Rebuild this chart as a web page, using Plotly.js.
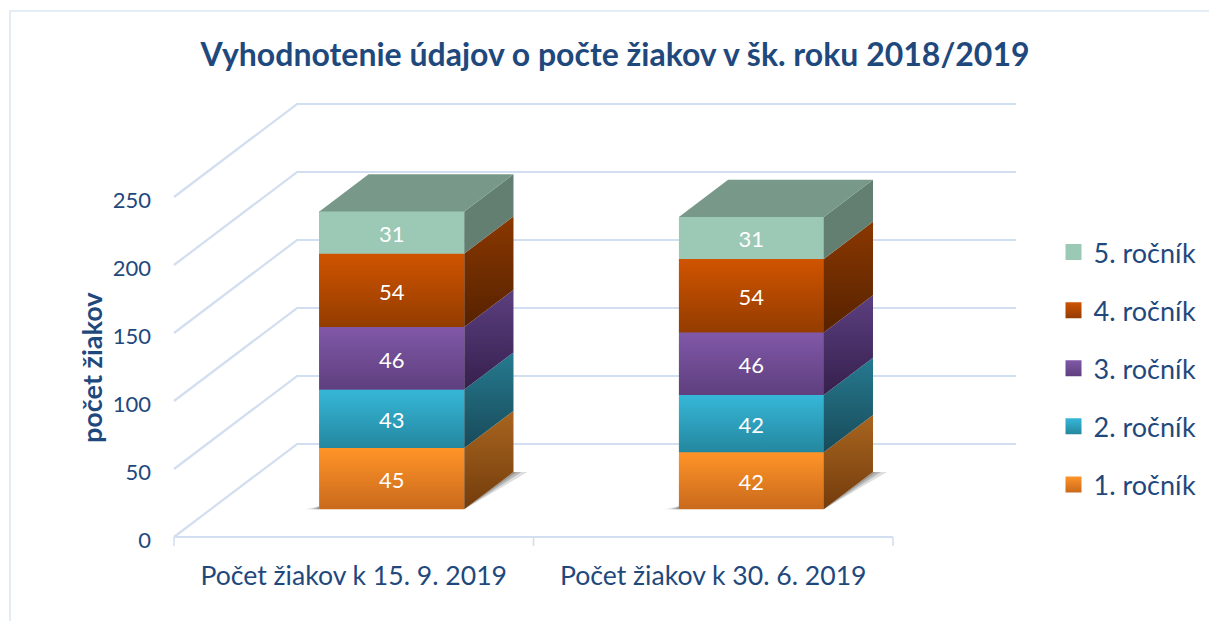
<!DOCTYPE html>
<html>
<head>
<meta charset="utf-8">
<script src="https://cdn.plot.ly/plotly-3.0.1.min.js"></script>
<style>html,body{margin:0;padding:0;background:#fff;overflow:hidden}#chart{width:1209px;height:621px}</style>
</head>
<body>
<div id="chart"></div>
<script>
const categories = ["Počet žiakov k 15. 9. 2019", "Počet žiakov k 30. 6. 2019"];
const seriesNames = ["1. ročník", "2. ročník", "3. ročník", "4. ročník", "5. ročník"];
const rocnik1 = [45, 42];
const rocnik2 = [43, 42];
const rocnik3 = [46, 46];
const rocnik4 = [54, 54];
const rocnik5 = [31, 31];
const yTicks = [0, 50, 100, 150, 200, 250];

const frontTop = ["#ff9428", "#36b7d8", "#8058a8", "#d05400", "#9cc9b5"];
const frontBot = ["#c9691c", "#24879f", "#5f3f7e", "#933c00", "#9cc9b5"];
const sideTop  = ["#a9651f", "#267a90", "#5c3f80", "#8a3800", "#627f72"];
const sideBot  = ["#733c0c", "#184a59", "#35204d", "#562200", "#627f72"];
const topColor = "#78988a";
const navy = "#1f497d";
const gridColor = "#d2dff0";
const fontFam = "Lato, Carlito, Calibri, sans-serif";

// layout geometry
const W = 1209, H = 621;
const mL = 170, mR = 188, mT = 98, mB = 74;
const axisLeftPx = 174, axisBottomPx = 537;
const pxPerCat = 359.5, pxPerVal = 1.36;
const depthXpx = 123, depthYpx = 93;
const DX = depthXpx / pxPerCat, DY = depthYpx / pxPerVal;
const dFront = 0.298, dBack = 0.698;
const barW = 0.403, barShift = 0.004;

const xMin = -0.5 - (axisLeftPx - mL) / pxPerCat;
const xMax = -0.5 + (W - mR - axisLeftPx) / pxPerCat;
const yMin = -(H - mB - axisBottomPx) / pxPerVal;
const yMax = (axisBottomPx - mT) / pxPerVal;

const proj = (x, v, d) => [x + d * DX, v + d * DY];
const poly = pts => ({x: pts.map(p => p[0]), y: pts.map(p => p[1])});
const series = [rocnik1, rocnik2, rocnik3, rocnik4, rocnik5];
const traces = [];
const overlays = [];
const labels = [];
const grad = (c0, c1) => ({type: "vertical", colorscale: [[0, c1], [1, c0]]});
const faceTrace = (pts, extra) => Object.assign({
  type: "scatter", mode: "lines", fill: "toself", line: {width: 0},
  hoverinfo: "skip", showlegend: false
}, poly(pts.concat([pts[0]])), extra);

const base = categories.map(() => 0);
series.forEach((vals, s) => {
  const xs = categories.map((_, i) => i + barShift + dFront * DX);
  const bases = base.map(b => b + dFront * DY);
  traces.push({
    type: "bar", name: seriesNames[s], x: xs, y: vals, base: bases, width: barW,
    marker: {color: frontTop[s], line: {width: 0}}, legendgroup: seriesNames[s], showlegend: false,
    hoverinfo: "skip"
  });
  vals.forEach((v, i) => {
    const c = i + barShift, l = c - barW / 2, r = c + barW / 2;
    const lo = base[i], hi = base[i] + v;
    overlays.push(faceTrace([proj(l, lo, dFront), proj(r, lo, dFront), proj(r, hi, dFront), proj(l, hi, dFront)],
      {fillgradient: grad(frontTop[s], frontBot[s])}));
    overlays.push(faceTrace([proj(r, lo, dFront), proj(r, hi, dFront), proj(r, hi, dBack), proj(r, lo, dBack)],
      {fillgradient: grad(sideTop[s], sideBot[s])}));
    if (s === series.length - 1) {
      overlays.push(faceTrace([proj(l, hi, dFront), proj(r, hi, dFront), proj(r, hi, dBack), proj(l, hi, dBack)],
        {fillcolor: topColor}));
    }
    const m = proj(c, lo + v / 2, dFront);
    labels.push({x: m[0], y: m[1] - 4 / pxPerVal, t: String(v)});
    base[i] += v;
  });
});

const labelTrace = {
  type: "scatter", mode: "text", x: labels.map(l => l.x), y: labels.map(l => l.y), text: labels.map(l => l.t),
  textposition: "middle center", textfont: {family: fontFam, size: 22, color: "#ffffff"},
  hoverinfo: "skip", showlegend: false, cliponaxis: false
};

const legendTraces = seriesNames.map((n, s) => ({
  type: "scatter", mode: "markers", name: n, x: [null], y: [null], legendgroup: n,
  marker: {symbol: "square", size: 16, color: frontTop[s], gradient: {type: "vertical", color: frontBot[s]}, line: {width: 0}}
})).reverse();

// gridlines, floor and tick marks
const shapes = [];
const seg = (pts, width, color) => ({
  type: "path", xref: "x", yref: "y", layer: "below",
  path: pts.map((p, i) => (i ? "L" : "M") + p[0] + "," + p[1]).join(" "),
  line: {color: color, width: width}
});
yTicks.forEach(v => {
  shapes.push(seg([proj(-0.5, v, 0), proj(-0.5, v, 1), proj(1.5, v, 1)], 2.2, gridColor));
});
shapes.push(seg([proj(-0.5, 0, 0), proj(1.5, 0, 0)], 2.2, gridColor));
[-0.5, 0.5, 1.5].forEach(x => shapes.push(seg([[x, 0], [x, -9 / pxPerVal]], 1.6, gridColor)));

// contact shadows on the floor
categories.forEach((_, i) => {
  const c = i + barShift, l = c - barW / 2, r = c + barW / 2;
  [[14, 0.16], [8, 0.22], [3, 0.25]].forEach(([px, a]) => {
    const e = px / pxPerCat;
    const sh = [proj(r, 0, dFront), proj(r + e, 0, dBack), proj(r, 0, dBack)];
    const s2 = [proj(l, 0, dFront), proj(l - e, 0, dFront), proj(l, 3 / pxPerVal, dFront)];
    [sh, s2].forEach(p => shapes.push({
      type: "path", xref: "x", yref: "y", layer: "below",
      path: p.map((q, k) => (k ? "L" : "M") + q[0] + "," + q[1]).join(" ") + " Z",
      fillcolor: "rgba(50,50,50," + a + ")", line: {width: 0}
    }));
  });
});

// outer frame
const pw = W - mL - mR, ph = H - mT - mB;
const fx = px => (px - mL) / pw, fy = py => 1 - (py - mT) / ph;
shapes.push({
  type: "rect", xref: "paper", yref: "paper", layer: "below",
  x0: fx(10), x1: fx(W + 20), y0: fy(H + 20), y1: fy(11),
  line: {color: "#dce6f2", width: 1.6}, fillcolor: "rgba(0,0,0,0)"
});

const layout = {
  width: W, height: H, paper_bgcolor: "#ffffff", plot_bgcolor: "rgba(0,0,0,0)",
  margin: {l: mL, r: mR, t: mT, b: mB, pad: 0, autoexpand: false},
  barmode: "overlay", bargap: 0, showlegend: true,
  title: {
    text: "<b>Vyhodnotenie údajov o počte žiakov v šk. roku 2018/2019</b>",
    x: 615 / W, xanchor: "center", xref: "container", y: 1 - 55 / H, yanchor: "middle", yref: "container",
    font: {family: fontFam, size: 32, color: navy}
  },
  xaxis: {
    range: [xMin, xMax], tickmode: "array", tickvals: [0, 1], ticktext: categories,
    showgrid: false, zeroline: false, showline: false, ticks: "", fixedrange: true,
    ticklabelstandoff: 10, tickfont: {family: fontFam, size: 26.6, color: navy}
  },
  yaxis: {
    range: [yMin, yMax], tickmode: "array", tickvals: yTicks, ticktext: yTicks.map(String),
    showgrid: false, zeroline: false, showline: false, ticks: "", fixedrange: true,
    ticklabelstandoff: 18, ticklabelshift: 3, tickfont: {family: fontFam, size: 22, color: navy}
  },
  legend: {
    x: 1053.5 / W, xref: "container", xanchor: "left", y: 1 - 228 / H, yref: "container", yanchor: "top", traceorder: "grouped",
    tracegroupgap: 20, itemwidth: 30, bgcolor: "rgba(0,0,0,0)",
    font: {family: fontFam, size: 27, color: navy}
  },
  annotations: [{
    text: "<b>počet žiakov</b>", xref: "paper", yref: "paper", x: fx(91), y: fy(368),
    xanchor: "center", yanchor: "middle", textangle: -90, showarrow: false,
    font: {family: fontFam, size: 27, color: navy}
  }],
  shapes: shapes
};

Plotly.newPlot("chart", traces.concat(overlays, [labelTrace], legendTraces), layout, {staticPlot: true, displayModeBar: false});
</script>
</body>
</html>
